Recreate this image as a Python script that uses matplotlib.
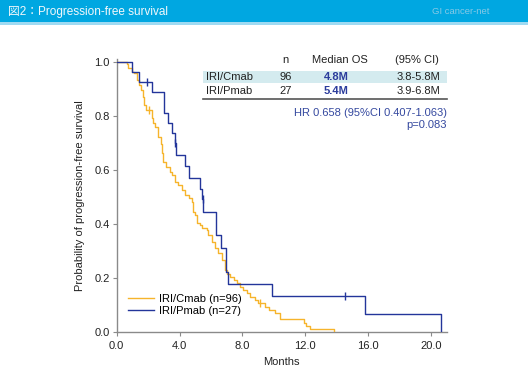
import matplotlib
matplotlib.use("Agg")
import matplotlib.pyplot as plt
from matplotlib.patches import Rectangle
from matplotlib.lines import Line2D

# ---------------- data ----------------
cmab_t = [0, 0.64, 0.74, 0.96, 1.10, 1.27, 1.44, 1.55, 1.69, 1.76, 1.87, 2.23, 2.33, 2.44,
          2.65, 2.80, 2.90, 2.97, 3.14, 3.39, 3.50, 3.71, 3.92, 4.14, 4.35, 4.60, 4.78, 4.88,
          4.99, 5.10, 5.31, 5.41, 5.73, 5.83, 6.05, 6.26, 6.47, 6.69, 6.90, 7.02, 7.22,
          7.45, 7.64, 7.85, 8.06, 8.28, 8.49, 8.81, 9.00, 9.44, 9.66, 10.08, 10.40,
          11.90, 12.05, 12.30, 13.80]
cmab_s = [1.0, 0.99, 0.976, 0.962, 0.957, 0.932, 0.914, 0.895, 0.870, 0.840, 0.821, 0.790,
          0.772, 0.759, 0.722, 0.695, 0.660, 0.630, 0.611, 0.593, 0.580, 0.556, 0.543, 0.525,
          0.506, 0.494, 0.481, 0.444, 0.432, 0.401, 0.395, 0.383, 0.377, 0.358, 0.333,
          0.309, 0.290, 0.266, 0.229, 0.215, 0.204, 0.190, 0.179, 0.167, 0.154, 0.142,
          0.130, 0.117, 0.105, 0.093, 0.080, 0.068, 0.046, 0.031, 0.021, 0.010, 0.0]
cmab_cens_t = [2.08, 9.15]
cmab_cens_s = [0.821, 0.105]

pmab_t = [0, 1.00, 1.42, 2.23, 3.03, 3.25, 3.50, 3.68, 3.80, 4.35, 4.63, 5.30, 5.40, 5.52,
          6.30, 6.62, 6.94, 7.10, 9.90, 15.77, 20.65]
pmab_s = [1.0, 0.963, 0.926, 0.889, 0.811, 0.774, 0.736, 0.698, 0.654, 0.615, 0.570, 0.528,
          0.490, 0.444, 0.358, 0.311, 0.222, 0.177, 0.132, 0.066, 0.0]
pmab_cens_t = [1.95, 3.74, 5.46, 14.55]
pmab_cens_s = [0.926, 0.698, 0.490, 0.132]

x_ticks = [0.0, 4.0, 8.0, 12.0, 16.0, 20.0]
y_ticks = [0.0, 0.2, 0.4, 0.6, 0.8, 1.0]

table_header = ["n", "Median OS", "(95% CI)"]
table_groups = ["IRI/Cmab", "IRI/Pmab"]
table_n = ["96", "27"]
table_median = ["4.8M", "5.4M"]
table_ci = ["3.8-5.8M", "3.9-6.8M"]
hr_text = "HR 0.658 (95%CI 0.407-1.063)"
p_text = "p=0.083"

legend_labels = ["IRI/Cmab (n=96)", "IRI/Pmab (n=27)"]

# ---------------- style ----------------
W, H = 528, 384
ORANGE = "#f6b42c"
BLUE = "#23359a"
TXT_BLUE = "#2b3c9c"
FONT = ["Liberation Sans", "Noto Sans CJK JP", "DejaVu Sans"]
plt.rcParams['font.family'] = FONT
plt.rcParams['font.size'] = 8


def fx(x):
    return x / W


def fy(y):
    return 1 - y / H


fig = plt.figure(figsize=(W / 100, H / 100), dpi=100)
fig.patch.set_facecolor("white")

# banner
fig.patches.append(Rectangle((0, fy(22)), 1, 22 / H, transform=fig.transFigure,
                             facecolor="#00a7e1", edgecolor="none", zorder=0))
fig.patches.append(Rectangle((0, fy(24.5)), 1, 2.5 / H, transform=fig.transFigure,
                             facecolor="#9fdaf2", edgecolor="none", zorder=0))
fig.text(fx(8), fy(11.5), "図2：Progression-free survival", color="#f2f8fb",
         fontsize=8.5, va="center", ha="left", family=FONT)
fig.text(fx(432), fy(12), "GI cancer-net", color="#86c9e6", fontsize=6.8,
         va="center", ha="left")

# axes
y_top = 1.01
ax_left, ax_right = 116.7, 446.7
ax_bottom = 331.7
ax_toppx = ax_bottom - y_top * 270
ax = fig.add_axes([fx(ax_left), fy(ax_bottom), (ax_right - ax_left) / W,
                   (ax_bottom - ax_toppx) / H])
ax.set_xlim(0, 21.0)
ax.set_ylim(0, y_top)

ax.step(cmab_t, cmab_s, where="post", color=ORANGE, lw=1.0, zorder=3)
ax.step(pmab_t, pmab_s, where="post", color=BLUE, lw=1.0, zorder=4)
ax.plot(cmab_cens_t, cmab_cens_s, ls="none", marker="|", ms=6, mew=1.0, color=ORANGE, zorder=3)
ax.plot(pmab_cens_t, pmab_cens_s, ls="none", marker="|", ms=6, mew=1.0, color=BLUE, zorder=4)

for s in ["top", "right"]:
    ax.spines[s].set_visible(False)
for s in ["left", "bottom"]:
    ax.spines[s].set_color("#8a8a8a")
    ax.spines[s].set_linewidth(1.0)
ax.set_xticks(x_ticks)
ax.set_xticklabels([f"{v:.1f}" for v in x_ticks])
ax.set_yticks(y_ticks)
ax.set_yticklabels([f"{v:.1f}" for v in y_ticks])
ax.tick_params(direction="out", length=3, width=0.8, color="#8a8a8a",
               labelcolor="#222222", labelsize=8, pad=2)
ax.tick_params(axis="x", pad=4)
ax.set_xlabel("Months", fontsize=8, color="#222222", labelpad=4)
ax.set_ylabel("Probability of progression-free survival", fontsize=8,
              color="#222222", labelpad=7)

handles = [Line2D([0], [0], color=ORANGE, lw=1.0), Line2D([0], [0], color=BLUE, lw=1.0)]
ax.legend(handles, legend_labels, loc="lower left", bbox_to_anchor=(0.02, 0.04),
          frameon=False, fontsize=8, handlelength=2.4, handletextpad=0.4,
          labelspacing=0.25, borderaxespad=0)

# table
fig.patches.append(Rectangle((fx(203), fy(82.5)), (447 - 203) / W, (82.5 - 70.5) / H,
                             transform=fig.transFigure, facecolor="#d4ebef",
                             edgecolor="none", zorder=1))
fig.add_artist(Line2D([fx(203), fx(447)], [fy(99), fy(99)], transform=fig.transFigure,
                      color="#555555", lw=1.2))
hx = [285, 340, 417]
for x, t in zip(hx, table_header):
    fig.text(fx(x), fy(60), t, ha="center", va="center", color="#222222", fontsize=8)
rows_y = [76.5, 91]
for i, y in enumerate(rows_y):
    fig.text(fx(206), fy(y), table_groups[i], ha="left", va="center", color="#222222", fontsize=8)
    fig.text(fx(285.5), fy(y), table_n[i], ha="center", va="center", color="#222222", fontsize=8)
    fig.text(fx(336), fy(y), table_median[i], ha="center", va="center", color=TXT_BLUE,
             fontsize=8, fontweight="bold")
    fig.text(fx(418), fy(y), table_ci[i], ha="center", va="center", color="#222222", fontsize=8)
fig.text(fx(447), fy(113), hr_text, ha="right", va="center", color="#34489f", fontsize=8)
fig.text(fx(447), fy(125.5), p_text, ha="right", va="center", color="#34489f", fontsize=8)

fig.savefig("out.png", dpi=100, facecolor="white")
